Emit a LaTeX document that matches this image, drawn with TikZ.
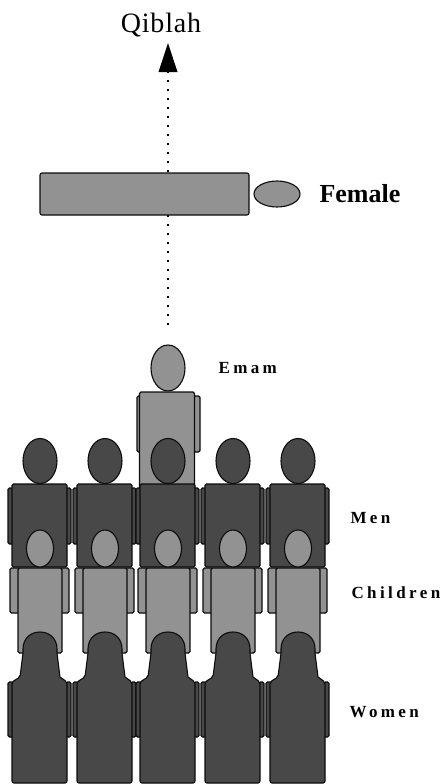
\documentclass[tikz,border=0pt]{standalone}
\usepackage{fontspec}
\setmainfont{Liberation Serif}
\newfontfamily\widefont[LetterSpace=20]{Liberation Serif}
\newfontfamily\titlefont[LetterSpace=3]{Liberation Serif}
\usetikzlibrary{arrows.meta}
\usetikzlibrary{shapes.geometric}
\definecolor{lightfill}{HTML}{929292}
\definecolor{darkfill}{HTML}{484848}
\definecolor{outline}{HTML}{0C0C0C}

\begin{document}
\begin{tikzpicture}[x=1pt,y=-1pt,line width=1.1pt]
\tikzstyle{light}=[draw=outline,fill=lightfill,rounded corners=1.5pt]
\tikzstyle{dark}=[draw=outline,fill=darkfill,rounded corners=1.5pt]
\tikzstyle{head}=[ellipse,draw=outline,inner sep=0pt]
\tikzstyle{small}=[anchor=west,inner sep=0pt,font=\widefont\bfseries\fontsize{17}{19}\selectfont]
\useasboundingbox (0,0) rectangle (446,784);

% direction of prayer
\coordinate (lineend) at (168,325);
\node[inner sep=0pt,font=\titlefont\fontsize{28}{30}\selectfont] at (161,25) (qiblah) {Qiblah};
\coordinate (arrowtip) at (168,43);
\draw[dash pattern=on 2pt off 7pt,line width=1.2pt,-{Triangle[length=29pt,width=19pt,line width=0pt]},black] (lineend) -- (arrowtip);

% females in front
\node[draw=outline,fill=lightfill,rounded corners=2pt,minimum width=209pt,minimum height=42pt,inner sep=0pt] at (144.5,194) (row) {};
\node[head,fill=lightfill,minimum width=46pt,minimum height=26pt] at (277,194) (femalehead) {};
\node[anchor=west,inner sep=0pt,font=\bfseries\fontsize{26}{28}\selectfont] at (319,194) (female) {Female};

% emam
\draw[light] (137,396) rectangle (141,452);
\draw[light] (194,396) rectangle (200,452);
\draw[light] (139.5,392) rectangle (194.5,490);
\node[head,fill=lightfill,minimum width=34pt,minimum height=46pt] at (168,368) (emamhead) {};
\node[small] at (218,368) (emam) {Emam};

% men
\foreach \x/\n in {40/a,105/b,168/c,233/d,298/e} {
  \draw[dark] (\x-32,488) rectangle (\x-26,544);
  \draw[dark] (\x+26,488) rectangle (\x+31,544);
  \draw[dark] (\x-28,484) rectangle (\x+27,567);
  \node[head,fill=darkfill,minimum width=34pt,minimum height=45pt] at (\x,461) (man\n) {};
}
\node[small] at (350,518) (men) {Men};

% children
\foreach \x/\n in {40/a,105/b,168/c,233/d,298/e} {
  \draw[light] (\x-30,568) rectangle (\x-20,613);
  \draw[light] (\x+20,568) rectangle (\x+29,613);
  \draw[light] (\x-22,568) rectangle (\x+22,653);
  \node[head,fill=lightfill,minimum width=27pt,minimum height=37pt] at (\x,548.5) (child\n) {};
}
\node[small] at (351,593) (children) {Children};

% women
\foreach \x/\n in {40/a,105/b,168/c,233/d,298/e} {
  \draw[dark] (\x-32,682) rectangle (\x-26,737);
  \draw[dark] (\x+26,682) rectangle (\x+31,737);
  \draw[draw=outline,fill=darkfill,rounded corners=2pt] (\x-28,783) -- (\x-28,682) -- (\x-20,677)
    [sharp corners] -- (\x-17,653) -- (\x-17,649)
    .. controls (\x-17,638) and (\x-9,632) .. (\x,632)
    .. controls (\x+9,632) and (\x+17,638) .. (\x+17,649)
    -- (\x+17,653) -- (\x+20,677)
    [rounded corners=2pt] -- (\x+27,682) -- (\x+27,783) -- cycle;
}
\node[small] at (349,712) (women) {Women};
\end{tikzpicture}
\end{document}
